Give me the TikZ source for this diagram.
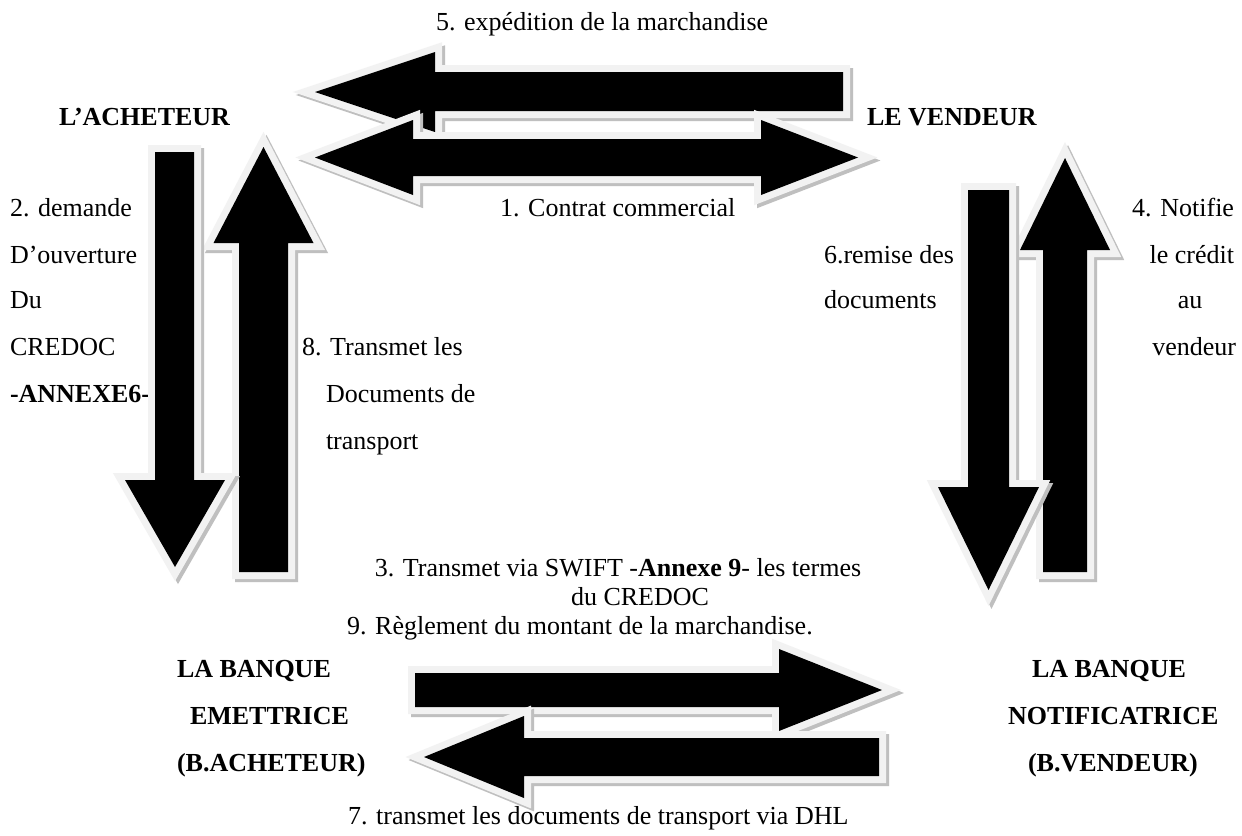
\documentclass[tikz,border=0pt]{standalone}
\usepackage{fontspec}
\setmainfont{Liberation Serif}
\definecolor{olgray}{HTML}{F2F2F2}
\definecolor{shgray}{HTML}{BFBFBF}
\tikzset{
  shadowpart/.style={fill=shgray, draw=shgray, line width=7bp, line join=miter, miter limit=10},
  outlinepart/.style={fill=olgray, draw=olgray, line width=7bp, line join=miter, miter limit=10},
  bodypart/.style={fill=black},
  lbl/.style={inner sep=0pt, outer sep=0pt, font=\fontsize{13bp}{15bp}\selectfont},
  blbl/.style={inner sep=0pt, outer sep=0pt, font=\fontsize{13bp}{15bp}\selectfont\bfseries},
}
\newcommand\blockarrow[1]{%
  \path[shadowpart, shift={(3,3)}] #1;
  \path[outlinepart] #1;
  \path[bodypart] #1;
}
\begin{document}
\begin{tikzpicture}[x=0.5bp,y=-0.5bp]
\useasboundingbox[fill=white] (0,0) rectangle (1242,835);

% ---- labels
\node[lbl, anchor=base west] (t5) at (436,30) {5. expédition de la marchandise};
\node[blbl, anchor=base east] (acheteur) at (230,125) {L’ACHETEUR};
\node[blbl, anchor=base west] (vendeur) at (867,125) {LE VENDEUR};
\node[lbl, anchor=base west] (t1) at (500,216) {1. Contrat commercial};

\node[lbl, anchor=base west] (t2a) at (10,216) {2. demande};
\node[lbl, anchor=base west] (t2b) at (10,263) {D’ouverture};
\node[lbl, anchor=base west] (t2c) at (10,308) {Du};
\node[lbl, anchor=base west] (t2d) at (10,355) {CREDOC};
\node[blbl, anchor=base west] (t2e) at (10,402) {-ANNEXE6-};

\node[lbl, anchor=base west] (t8a) at (302,355) {8. Transmet les};
\node[lbl, anchor=base west] (t8b) at (326,402) {Documents de};
\node[lbl, anchor=base west] (t8c) at (326,449) {transport};

\node[lbl, anchor=base west] (t6a) at (824,263) {6.remise des};
\node[lbl, anchor=base west] (t6b) at (824,308) {documents};

\node[lbl, anchor=base east] (t4a) at (1234,216) {4. Notifie};
\node[lbl, anchor=base east] (t4b) at (1234,263) {le crédit};
\node[lbl, anchor=base] (t4c) at (1190,308) {au};
\node[lbl, anchor=base east] (t4d) at (1236,355) {vendeur};

\node[lbl, anchor=base] (t3a) at (618,576) {3. Transmet via SWIFT -\textbf{Annexe 9}- les termes};
\node[lbl, anchor=base] (t3b) at (640,605) {du CREDOC};
\node[lbl, anchor=base west] (t9) at (347,634) {9. Règlement du montant de la marchandise.};

\node[blbl, anchor=base west] (be1) at (177,677) {LA BANQUE};
\node[blbl, anchor=base west] (be2) at (190,724) {EMETTRICE};
\node[blbl, anchor=base west] (be3) at (177,771) {(B.ACHETEUR)};

\node[blbl, anchor=base west] (bn1) at (1032,677) {LA BANQUE};
\node[blbl, anchor=base west] (bn2) at (1008,724) {NOTIFICATRICE};
\node[blbl, anchor=base west] (bn3) at (1028,771) {(B.VENDEUR)};

\node[lbl, anchor=base west] (t7) at (348,824) {7. transmet les documents de transport via DHL};

% ---- block arrows
% 5. leftward (top)
\blockarrow{(315,92) -- (435,52) -- (435,72) -- (843,72) -- (843,111) -- (435,111) -- (435,132) -- cycle}
% 1. double arrow
\blockarrow{(315,157.5) -- (413,120) -- (413,139) -- (761,139) -- (761,120) -- (858,157.5) -- (761,195) -- (761,176) -- (413,176) -- (413,195) -- cycle}
% 8. upward (left)
\blockarrow{(263.5,147) -- (313.5,243) -- (288,243) -- (288,572) -- (239,572) -- (239,243) -- (213.5,243) -- cycle}
% 2. downward (left)
\blockarrow{(155,152) -- (194,152) -- (194,480) -- (225,480) -- (175,567) -- (125,480) -- (155,480) -- cycle}
% 4. upward (right)
\blockarrow{(1065,158) -- (1110,250) -- (1087,250) -- (1087,572) -- (1043,572) -- (1043,250) -- (1020,250) -- cycle}
% 6. downward (right)
\blockarrow{(968,190) -- (1009,190) -- (1009,487) -- (1039,487) -- (988.5,590) -- (938,487) -- (968,487) -- cycle}
% 9. rightward (bottom)
\blockarrow{(415,673) -- (779,673) -- (779,649) -- (882,690) -- (779,731) -- (779,707) -- (415,707) -- cycle}
% 7. leftward (bottom)
\blockarrow{(424,757) -- (524,716) -- (524,738) -- (879,738) -- (879,776) -- (524,776) -- (524,798) -- cycle}
\end{tikzpicture}
\end{document}
